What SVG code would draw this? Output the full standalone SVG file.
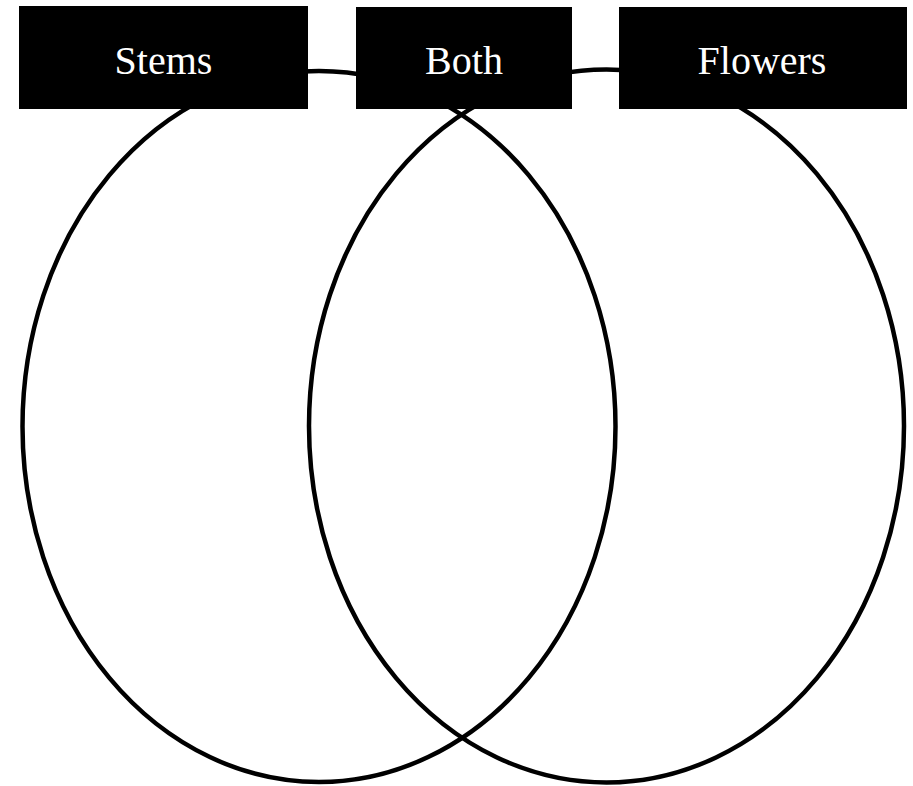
<svg xmlns="http://www.w3.org/2000/svg" width="913" height="786" viewBox="0 0 913 786">
<style>
.ring{fill:none;stroke:#000;stroke-width:4.5}
.box{fill:#000}
.lbl{fill:#fff;font-family:"Liberation Serif","Times New Roman",serif;font-size:40px;text-anchor:middle}
</style>
<rect width="913" height="786" fill="#fff"/>
<g id="connectors">
<ellipse class="ring" cx="319" cy="426.5" rx="296.5" ry="355.5"/>
<ellipse class="ring" cx="606.5" cy="426" rx="297.5" ry="356.5"/>
</g>
<g id="stems">
<rect class="box" x="19" y="6" width="289" height="103"/>
<text class="lbl" x="163.5" y="74">Stems</text>
</g>
<g id="both">
<rect class="box" x="356" y="7" width="216" height="102"/>
<text class="lbl" x="464" y="74">Both</text>
</g>
<g id="flowers">
<rect class="box" x="619" y="7" width="288" height="102"/>
<text class="lbl" x="762" y="74">Flowers</text>
</g>
</svg>
